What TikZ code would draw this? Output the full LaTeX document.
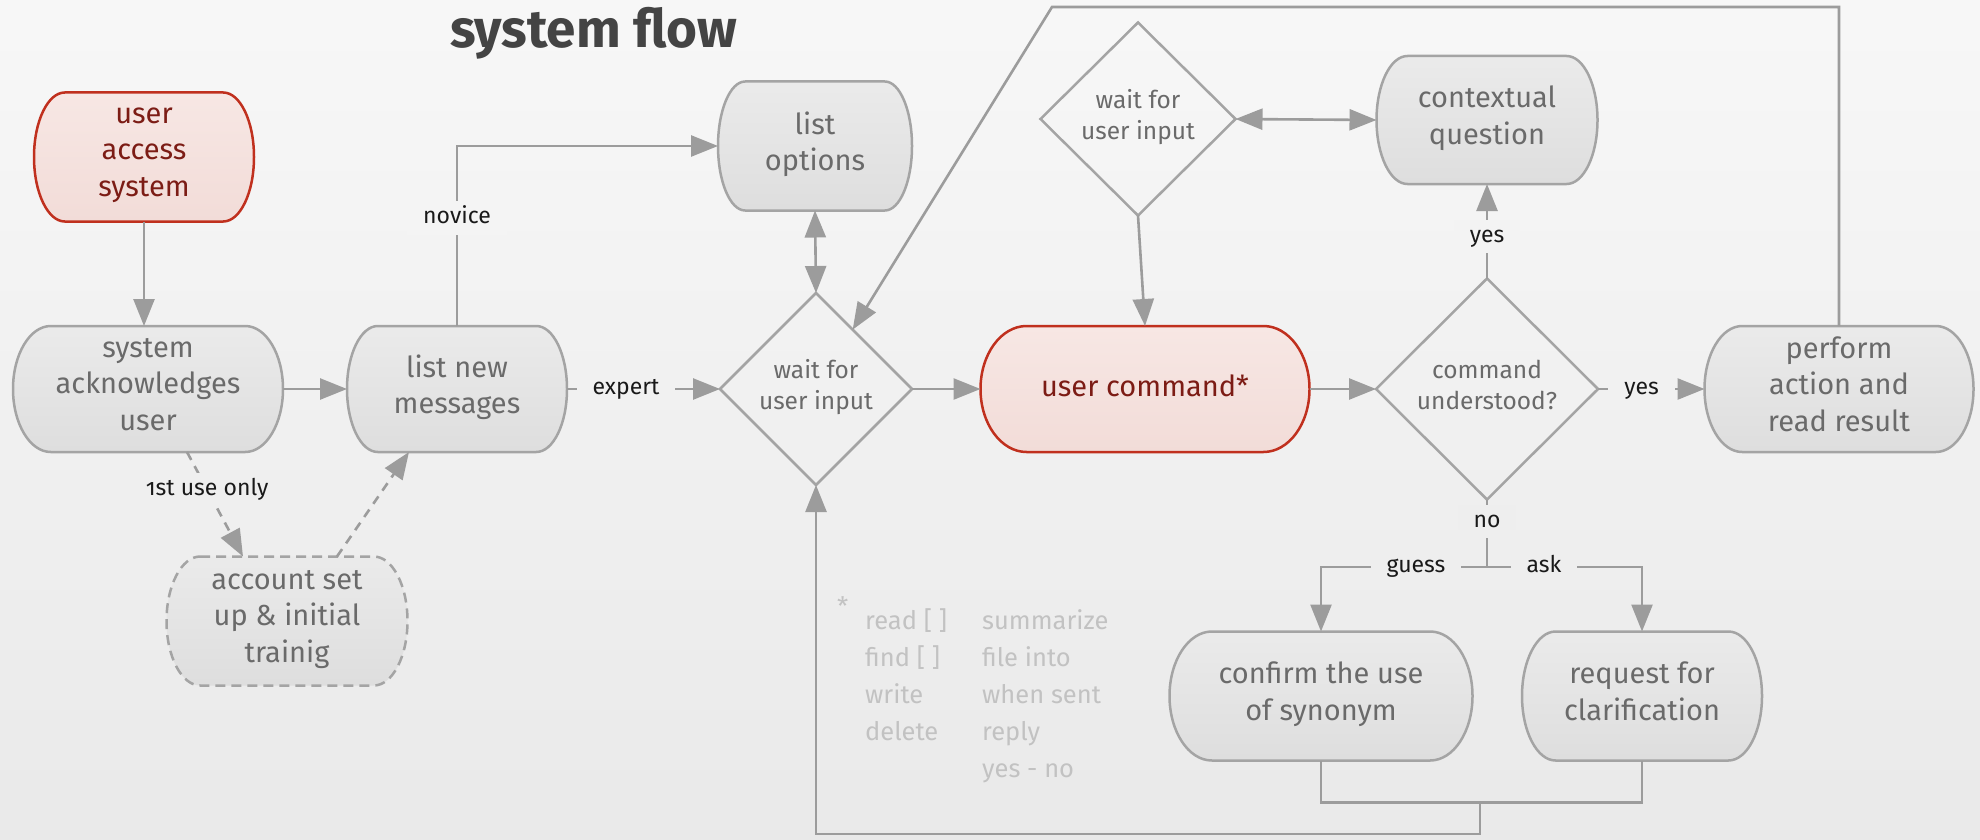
\documentclass[tikz,border=0pt]{standalone}
\usepackage{fontspec}
\setmainfont{Fira Sans}
\newfontfamily\lblfont[Numbers=OldStyle]{Fira Sans}
\usetikzlibrary{arrows.meta,shapes.geometric}
\definecolor{nodeline}{HTML}{A4A4A4}
\definecolor{arr}{HTML}{9C9C9C}
\definecolor{ntext}{HTML}{6A6A6A}
\definecolor{redline}{HTML}{C0301E}
\definecolor{redtext}{HTML}{7C1C15}
\definecolor{pinktop}{HTML}{F7E7E4}
\definecolor{pinkbot}{HTML}{F2DCD8}
\definecolor{fntext}{HTML}{C2C2C2}
\definecolor{titlec}{HTML}{444444}
\newcommand\pill[8]{%
  \pgfmathsetmacro\pd{0.14*#4}%
  \pgfmathsetmacro\pL{#2-#4/2}\pgfmathsetmacro\pR{#2+#4/2}%
  \pgfmathsetmacro\pT{#3-#5/2}\pgfmathsetmacro\pB{#3+#5/2}%
  \pgfmathsetmacro\pLi{\pL+\pd}\pgfmathsetmacro\pRi{\pR-\pd}%
  \pgfmathsetmacro\pkx{0.5523*\pd}\pgfmathsetmacro\pky{0.5523*#5/2}%
  \path[#6] (\pLi,\pT) -- (\pRi,\pT)
    .. controls ({\pRi+\pkx},\pT) and (\pR,{#3-\pky}) .. (\pR,#3)
    .. controls (\pR,{#3+\pky}) and ({\pRi+\pkx},\pB) .. (\pRi,\pB)
    -- (\pLi,\pB)
    .. controls ({\pLi-\pkx},\pB) and (\pL,{#3+\pky}) .. (\pL,#3)
    .. controls (\pL,{#3-\pky}) and ({\pLi-\pkx},\pT) .. (\pLi,\pT) -- cycle;
  \node[inner sep=0pt, outer sep=0pt, minimum width=#4, minimum height=#5] (#1) at (#2,#3) {};
  \node[#7] (#1t) at (#2,{#3+0.5}) {#8};
}
\begin{document}
\begin{tikzpicture}[x=1pt,y=-1pt,
  graybox/.style={draw=nodeline, line width=2.5pt, top color=black!8, bottom color=black!13},
  redbox/.style={draw=redline, line width=2.5pt, top color=pinktop, bottom color=pinkbot},
  dashbox/.style={graybox, dash pattern=on 10pt off 6pt},
  txt/.style={inner sep=0pt, outer sep=0pt, align=center, text=ntext, font=\fontsize{29}{36.5}\selectfont,
    execute at begin node=\strut, execute at end node=\strut},
  redtxt/.style={txt, text=redtext},
  dia/.style={diamond, draw=nodeline, line width=2.5pt, inner sep=0pt, outer sep=0pt, aspect=1},
  diatxt/.style={align=center, text=ntext, font=\fontsize{24.5}{31}\selectfont, inner sep=0pt,
    execute at begin node=\strut, execute at end node=\strut},
  conn/.style={draw=arr, line width=2.6pt},
  arrow/.style={conn, -{Triangle[length=27pt,width=21pt]}},
  darrow/.style={conn, {Triangle[length=27pt,width=21pt]}-{Triangle[length=27pt,width=21pt]}},
  lbl/.style={fill=black!#1, text=black!90, font=\lblfont\fontsize{23}{27}\selectfont,
    inner xsep=16pt, inner ysep=6pt, text height=16pt, text depth=5pt},
  fn/.style={text=fntext, font=\fontsize{25.5}{30}\selectfont, inner sep=0pt, anchor=base west}
]
\useasboundingbox (0,0) rectangle (1980,840);
\path[top color=black!3, bottom color=black!8.5] (0,0) rectangle (1980,840);

\node[anchor=base west, text=titlec, font=\bfseries\fontsize{53}{60}\selectfont, inner sep=0pt] (title) at (450,48) {system flow};

\pill{uas}{144}{157}{220}{129}{redbox}{redtxt}{user\\access\\system}
\pill{sack}{148}{389}{270}{126}{graybox}{txt}{system\\acknowledges\\user}
\pill{lnew}{457}{389}{220}{126}{graybox}{txt}{list new\\messages}
\pill{acct}{287}{621}{241}{129}{dashbox}{txt}{account set\\up \& initial\\trainig}
\pill{lopt}{815}{146}{194}{129}{graybox}{txt}{list\\options}
\pill{ucmd}{1145}{389}{329}{126}{redbox}{redtxt}{user command*}
\pill{ctx}{1487}{120}{221}{128}{graybox}{txt}{contextual\\question}
\pill{perf}{1839}{389}{269}{126}{graybox}{txt}{perform\\action and\\read result}
\pill{conf}{1321}{696}{303}{129}{graybox}{txt}{confirm the use\\of synonym}
\pill{req}{1642}{696}{240}{129}{graybox}{txt}{request for\\clarification}

\node[dia, minimum width=192, minimum height=192] (wait1) at (816,389) {};
\node[diatxt] (wait1t) at (816,389) {wait for\\user input};
\node[dia, minimum width=195, minimum height=193] (wait2) at (1138,119) {};
\node[diatxt] (wait2t) at (1138,119) {wait for\\user input};
\node[dia, minimum width=222, minimum height=221] (cu) at (1487,389) {};
\node[diatxt] (cut) at (1487,389) {command\\understood?};

\draw[arrow] (uas.south) -- (uas.south |- sack.north);
\draw[arrow] (sack.east) -- (lnew.west);
\draw[arrow, dash pattern=on 9pt off 7pt] ([xshift=39pt]sack.south) -- node[lbl=6.2, pos=0.36]{1st use only} ([xshift=-44pt]acct.north);
\draw[arrow, dash pattern=on 9pt off 7pt] ([xshift=50pt]acct.north) -- ([xshift=-48pt]lnew.south);
\draw[arrow] (lnew.north) |- node[lbl=4.4, pos=0.3]{novice} (lopt.west);
\draw[arrow] (lnew.east) -- node[lbl=5.55, pos=0.386]{expert} (wait1.west);
\draw[darrow] (lopt.south) -- (wait1.north);
\draw[arrow] (wait1.east) -- (ucmd.west);
\draw[darrow] (wait2.east) -- (ctx.west);
\draw[arrow] (wait2.south) -- (ucmd.north);
\draw[arrow] (ucmd.east) -- (cu.west);
\draw[arrow] (cu.north) -- node[lbl=4.55, pos=0.44]{yes} (ctx.south);
\draw[arrow] (cu.east) -- node[lbl=5.55, pos=0.41]{yes} (perf.west);
\coordinate (tl) at (1052,7);
\draw[arrow] (perf.north) |- (tl) -- (wait1);
\coordinate (jn) at (1487,567);
\draw[conn] (cu.south) -- node[lbl=6.5, pos=0.33]{no} (jn);
\draw[arrow] (jn) -| node[lbl=6.7, pos=0.214]{guess} (conf.north);
\draw[arrow] (jn) -| node[lbl=6.7, pos=0.184]{ask} (req.north);
\draw[conn] (conf.south) -- ++(0,42) -| (req.south);
\coordinate (bm) at (1480,802);
\coordinate (bb) at (1480,834);
\draw[arrow] (bm) -- (bb) -| (wait1.south);

\node[fn] (fstar) at (837,615) {*};
\foreach \t [count=\i] in {read [ ],find [ ],write,delete}
  \node[fn] (fa\i) at (865,{629+37*(\i-1)}) {\t};
\foreach \t [count=\i] in {summarize,file into,when sent,reply,yes - no}
  \node[fn] (fb\i) at (982,{629+37*(\i-1)}) {\t};
\end{tikzpicture}
\end{document}
